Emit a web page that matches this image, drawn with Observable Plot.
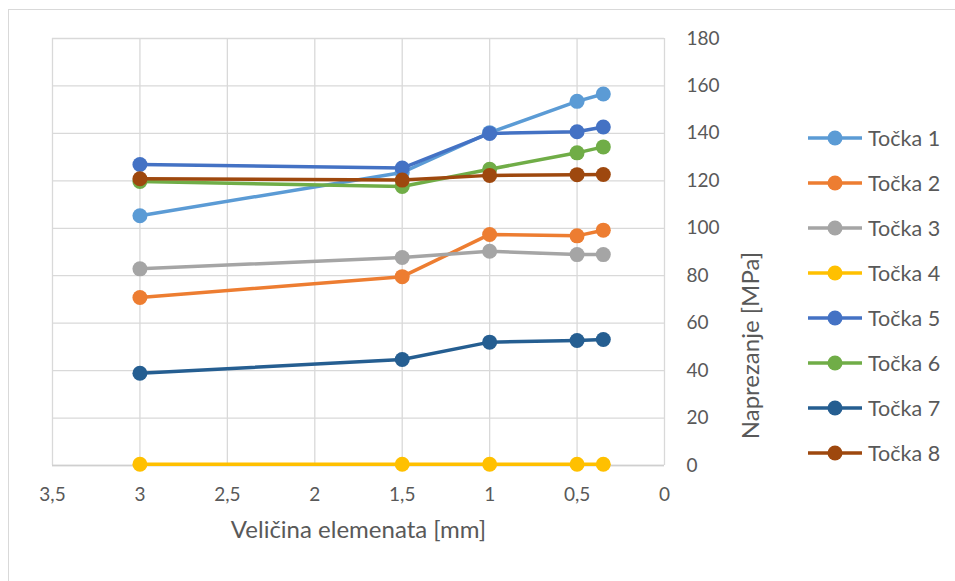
<!DOCTYPE html>
<html>
<head>
<meta charset="utf-8">
<script src="https://cdn.jsdelivr.net/npm/d3@7"></script>
<script src="https://cdn.jsdelivr.net/npm/@observablehq/plot@0.6"></script>
<style>
  html, body { margin: 0; padding: 0; background: #fff; overflow: hidden; }
  #wrap { position: relative; width: 955px; height: 581px; font-family: Lato, "Open Sans", sans-serif; }
  #frame { position: absolute; left: 8px; top: 9px; width: 1000px; height: 700px; border: 1.3px solid #d9d9d9; box-sizing: border-box; }
  #chart { position: absolute; left: 0; top: 0; }
  #legend { position: absolute; left: 808px; top: 0; }
  .item { position: absolute; left: 0; height: 20px; display: flex; align-items: center; white-space: nowrap; color: #595959; font-size: 21.5px; }
  .item svg { margin-right: 6px; }
</style>
</head>
<body>
<div id="wrap">
  <div id="frame"></div>
  <div id="chart"></div>
  <div id="legend"></div>
</div>
<script>
// Data
const sizes = [3, 1.5, 1, 0.5, 0.35];           // Veličina elemenata [mm]
const seriesNames = ["Točka 1", "Točka 2", "Točka 3", "Točka 4", "Točka 5", "Točka 6", "Točka 7", "Točka 8"];
const tocka1 = [105.3, 123.5, 140.3, 153.5, 156.6];
const tocka2 = [70.8, 79.6, 97.4, 96.8, 99.2];
const tocka3 = [82.9, 87.7, 90.3, 88.9, 88.9];
const tocka4 = [0.5, 0.5, 0.5, 0.5, 0.5];
const tocka5 = [126.9, 125.4, 140.0, 140.7, 142.7];
const tocka6 = [119.7, 117.6, 124.9, 131.8, 134.3];
const tocka7 = [38.9, 44.7, 52.0, 52.7, 53.1];
const tocka8 = [120.9, 120.3, 122.3, 122.6, 122.7];
const colors = ["#5B9BD5", "#ED7D31", "#A5A5A5", "#FFC000", "#4472C4", "#70AD47", "#255E91", "#9E480E"];
const xTicks = [3.5, 3, 2.5, 2, 1.5, 1, 0.5, 0];
const yTicks = [0, 20, 40, 60, 80, 100, 120, 140, 160, 180];
const xTitle = "Veličina elemenata [mm]";
const yTitle = "Naprezanje [MPa]";

const allValues = [tocka1, tocka2, tocka3, tocka4, tocka5, tocka6, tocka7, tocka8];
const rows = allValues.flatMap((vals, i) =>
  vals.map((v, j) => ({ series: seriesNames[i], size: sizes[j], value: v })));

const seriesMarks = seriesNames.flatMap((name, i) => {
  const data = rows.filter(d => d.series === name);
  return [
    Plot.line(data, { x: "size", y: "value", stroke: colors[i], strokeWidth: 3.5 }),
    Plot.dot(data, { x: "size", y: "value", fill: colors[i], r: 7.5 })
  ];
});

const fmt = d => String(d).replace(".", ",");

const chart = Plot.plot({
  width: 955,
  height: 581,
  marginLeft: 52,
  marginRight: 291,
  marginTop: 38,
  marginBottom: 116,
  style: { fontFamily: "Lato, 'Open Sans', sans-serif", fontSize: "19px", color: "#595959", background: "transparent" },
  x: { domain: [3.5, 0], ticks: xTicks },
  y: { domain: [0, 180], ticks: yTicks },
  marks: [
    Plot.gridX(xTicks, { stroke: "#d9d9d9", strokeOpacity: 1, strokeWidth: 1.3 }),
    Plot.gridY(yTicks, { stroke: "#d9d9d9", strokeOpacity: 1, strokeWidth: 1.3 }),
    Plot.ruleY([0], { stroke: "#cfcfcf", strokeWidth: 1.5 }),
    Plot.axisX(xTicks, { tickSize: 0, tickPadding: 22, tickFormat: fmt, fill: "#595959", label: null }),
    Plot.axisY(yTicks, { anchor: "right", tickSize: 0, tickPadding: 22, fill: "#595959", label: null }),
    Plot.text([xTitle], { frameAnchor: "bottom", dy: 72, fontSize: 24, fill: "#595959" }),
    Plot.text([yTitle], { frameAnchor: "right", dx: 87, rotate: -90, fontSize: 24, fill: "#595959" }),
    ...seriesMarks
  ]
});
document.getElementById("chart").appendChild(chart);

// Legend
const legend = document.getElementById("legend");
seriesNames.forEach((name, i) => {
  const item = document.createElement("div");
  item.className = "item";
  item.style.top = (128 + i * 45) + "px";
  item.innerHTML = `<svg width="54" height="20"><line x1="0" x2="54" y1="10" y2="10" stroke="${colors[i]}" stroke-width="3.5"/><circle cx="27" cy="10" r="7.5" fill="${colors[i]}"/></svg><span>${name}</span>`;
  legend.appendChild(item);
});
</script>
</body>
</html>
